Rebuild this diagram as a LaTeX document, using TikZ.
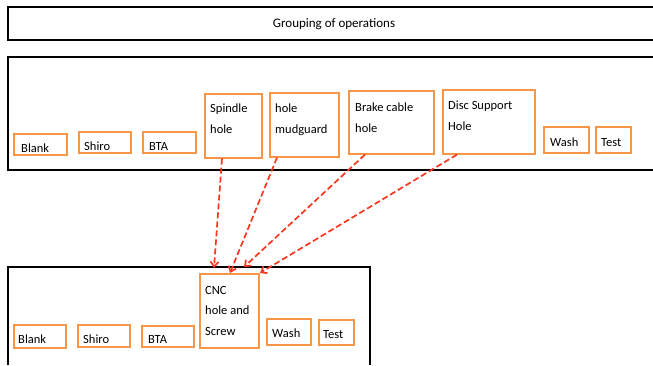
\documentclass[tikz,border=0pt]{standalone}
\usepackage{fontspec}
\setmainfont{Carlito}
\usepackage{xcolor}
\usepackage{tikz}
\usetikzlibrary{arrows.meta, positioning, calc}
\definecolor{oporange}{RGB}{247,150,70}
\definecolor{linkred}{RGB}{250,55,30}
\tikzset{
  groupframe/.style={draw=black,line width=2pt},
  opbox/.style={draw=oporange,line width=1.6pt,inner sep=0pt,anchor=north west},
  optext/.style={inner sep=0pt,anchor=base west,align=left,font=\fontsize{12.5}{20.5}\selectfont},
  link/.style={draw=linkred,line width=1.7pt,dash pattern=on 6pt off 3pt,-{Straight Barb[length=5pt,width=8pt]}}
}
\begin{document}
\begin{tikzpicture}[x=1pt,y=-1pt]
\useasboundingbox (0,0) rectangle (653,365);
% title bar
\draw[groupframe] (653,7) -- (8,7) -- (8,40) -- (653,40);
\node[inner sep=0pt,font=\fontsize{13}{15}\selectfont] (title) at (334,24) {Grouping of operations};
% frame of separate operations
\draw[groupframe] (653,57) -- (8,57) -- (8,170) -- (653,170);
\node[opbox,minimum width=53pt,minimum height=21pt] (blankA) at (13,133) {};
\node[optext] (blankAt) at (21,152) {Blank};
\node[opbox,minimum width=52pt,minimum height=21pt] (shiroA) at (78,131) {};
\node[optext] (shiroAt) at (84,150) {Shiro};
\node[opbox,minimum width=53pt,minimum height=21pt] (btaA) at (142,131) {};
\node[optext] (btaAt) at (149,150) {BTA};
\node[opbox,minimum width=57pt,minimum height=64pt] (spindle) at (204,93) {};
\node[optext] (spindlet) at (210,133) {Spindle\\hole};
\node[opbox,minimum width=69pt,minimum height=64pt] (mudguard) at (269,92) {};
\node[optext] (mudguardt) at (275,133) {hole\\mudguard};
\node[opbox,minimum width=85pt,minimum height=63pt] (brake) at (348,90) {};
\node[optext] (braket) at (355,132) {Brake cable\\hole};
\node[opbox,minimum width=92pt,minimum height=64pt] (disc) at (442,89) {};
\node[optext] (disct) at (448,130) {Disc Support\\Hole};
\node[opbox,minimum width=45pt,minimum height=26pt] (washA) at (543,126) {};
\node[optext] (washAt) at (550,146) {Wash};
\node[opbox,minimum width=35pt,minimum height=26pt] (testA) at (595,126) {};
\node[optext] (testAt) at (601,146) {Test};
% frame of grouped operations
\draw[groupframe] (8,365) -- (8,267) -- (370,267) -- (370,365);
\node[opbox,minimum width=52pt,minimum height=23pt] (blankB) at (13,324) {};
\node[optext] (blankBt) at (18,343) {Blank};
\node[opbox,minimum width=52pt,minimum height=22pt] (shiroB) at (77,324) {};
\node[optext] (shiroBt) at (83,343) {Shiro};
\node[opbox,minimum width=52pt,minimum height=21pt] (btaB) at (141,325) {};
\node[optext] (btaBt) at (148,343) {BTA};
\node[opbox,minimum width=59pt,minimum height=74pt] (cnc) at (199,273) {};
\node[optext] (cnct) at (205,335) {CNC\\hole and\\Screw};
\node[opbox,minimum width=44pt,minimum height=26pt] (washB) at (266,318) {};
\node[optext] (washBt) at (272,337) {Wash};
\node[opbox,minimum width=35pt,minimum height=25pt] (testB) at (318,319) {};
\node[optext] (testBt) at (323,338) {Test};
% merged into one cnc step
\draw[link] ([xshift=18pt]spindle.south west) -- ([shift={(15,-5)}]cnc.north west);
\draw[link] ([xshift=8pt]mudguard.south west) -- ([shift={(31,0)}]cnc.north west);
\draw[link] ([xshift=17pt]brake.south west) -- ([shift={(45,-6)}]cnc.north west);
\draw[link] ([xshift=15pt]disc.south west) -- ([shift={(61,0)}]cnc.north west);
\end{tikzpicture}
\end{document}
